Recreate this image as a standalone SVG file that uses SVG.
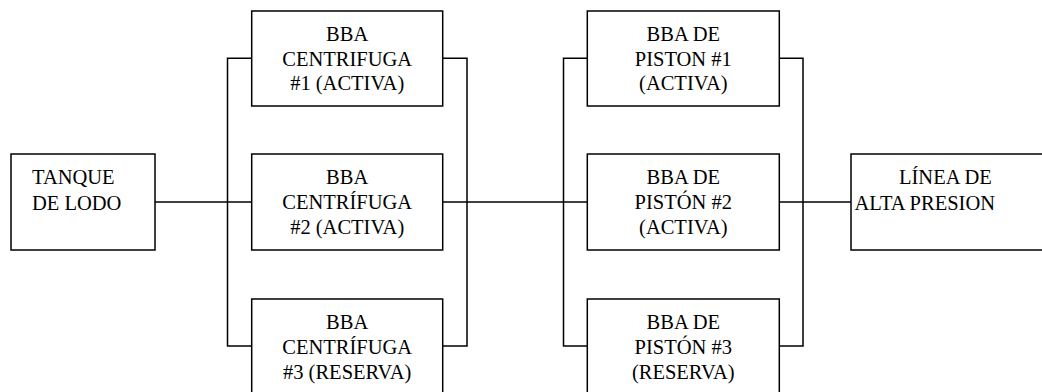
<svg xmlns="http://www.w3.org/2000/svg" width="1042" height="392" viewBox="0 0 1042 392">
<style>
.box{fill:#fff;stroke:#000;stroke-width:1.5}
.ln{fill:none;stroke:#000;stroke-width:1.5}
.t{font-family:'Liberation Serif','Times New Roman','DejaVu Serif',serif;font-size:20.5px;fill:#000}
.c{text-anchor:middle}
</style>
<rect width="1042" height="392" fill="#fff"/>
<g id="connectors">
<path class="ln" d="M155,202H251.7"/>
<path class="ln" d="M251.7,58.3H227.5V346H251.7"/>
<path class="ln" d="M442.7,58.3H467V346H442.7"/>
<path class="ln" d="M442.7,202H587.3"/>
<path class="ln" d="M587.3,58.3H563.5V346H587.3"/>
<path class="ln" d="M779.3,58.3H803V346H779.3"/>
<path class="ln" d="M779.3,202H851"/>
</g>
<g font-family="Liberation Serif, Times New Roman, DejaVu Serif, serif">
<g id="tanque">
<rect class="box" x="11" y="154" width="144" height="96"/>
<text class="t" x="32" y="184">TANQUE</text>
<text class="t" x="32" y="209.5">DE LODO</text>
</g>
<g id="centrifuga1">
<rect class="box" x="251.7" y="11" width="191" height="95"/>
<text class="t c" x="347.2" y="40.5">BBA</text>
<text class="t c" x="347.2" y="65.5">CENTRIFUGA</text>
<text class="t c" x="347.2" y="90">#1 (ACTIVA)</text>
</g>
<g id="centrifuga2">
<rect class="box" x="251.7" y="154" width="191" height="96"/>
<text class="t c" x="347.2" y="184">BBA</text>
<text class="t c" x="347.2" y="209">CENTRÍFUGA</text>
<text class="t c" x="347.2" y="233.5">#2 (ACTIVA)</text>
</g>
<g id="centrifuga3">
<rect class="box" x="251.7" y="299" width="191" height="96"/>
<text class="t c" x="347.2" y="329">BBA</text>
<text class="t c" x="347.2" y="354">CENTRÍFUGA</text>
<text class="t c" x="347.2" y="378.5">#3 (RESERVA)</text>
</g>
<g id="piston1">
<rect class="box" x="587.3" y="11" width="192" height="95"/>
<text class="t c" x="683.3" y="40.5">BBA DE</text>
<text class="t c" x="683.3" y="65.5">PISTON #1</text>
<text class="t c" x="683.3" y="90">(ACTIVA)</text>
</g>
<g id="piston2">
<rect class="box" x="587.3" y="154" width="192" height="96"/>
<text class="t c" x="683.3" y="184">BBA DE</text>
<text class="t c" x="683.3" y="209">PISTÓN #2</text>
<text class="t c" x="683.3" y="233.5">(ACTIVA)</text>
</g>
<g id="piston3">
<rect class="box" x="587.3" y="299" width="192" height="96"/>
<text class="t c" x="683.3" y="329">BBA DE</text>
<text class="t c" x="683.3" y="354">PISTÓN #3</text>
<text class="t c" x="683.3" y="378.5">(RESERVA)</text>
</g>
<g id="linea">
<rect class="box" x="851" y="154" width="200" height="96"/>
<text class="t" x="899" y="184">LÍNEA DE</text>
<text class="t" x="854.5" y="209.5">ALTA PRESION</text>
</g>
</g>
</svg>
